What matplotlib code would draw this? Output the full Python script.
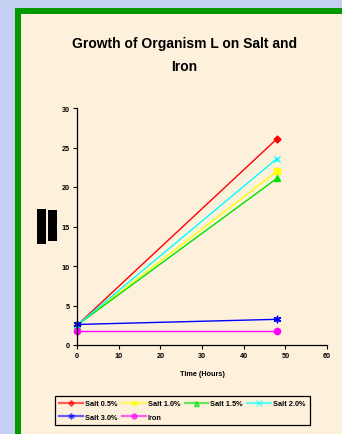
import numpy as np
import matplotlib.pyplot as plt
from matplotlib.patches import Rectangle
from matplotlib.lines import Line2D

# growth readings at the start and after 48 hours
hours = [0, 48]
series_names = ['Salt 0.5%', 'Salt 1.0%', 'Salt 1.5%', 'Salt 2.0%', 'Salt 3.0%', 'Iron']
salt_05 = [2.5, 26.1]
salt_10 = [2.5, 22.0]
salt_15 = [2.5, 21.1]
salt_20 = [2.5, 23.6]
salt_30 = [2.6, 3.25]
iron = [1.8, 1.8]

x_ticks = [0, 10, 20, 30, 40, 50, 60]
y_ticks = [0, 5, 10, 15, 20, 25, 30]

W, H = 342, 435
fig = plt.figure(figsize=(W / 100, H / 100), dpi=100)
fig.patch.set_facecolor('#c4cff2')

def px(x, y, w, h, z, **kw):
    # rectangle in pixel units, measured from the top-left corner
    fig.patches.append(Rectangle((x / W, 1 - (y + h) / H), w / W, h / H,
                                 transform=fig.transFigure, figure=fig,
                                 zorder=z, **kw))

px(15, 9, W, H, -3, facecolor='#009900', edgecolor='none')
px(21, 15, W, H, -2, facecolor='#fdf1dc', edgecolor='none')
px(37, 210, 9, 35, -1, facecolor='black', edgecolor='none')
px(48, 211, 9, 31, -1, facecolor='black', edgecolor='none')

ax = fig.add_axes([77 / W, 1 - 346 / H, 250 / W, 237 / H])
ax.set_facecolor('none')

styles = [
    ('#ff0000', 'D', 3.5),
    ('#ffff00', 's', 4),
    ('#00e000', '^', 4.5),
    ('#00ffff', 'x', 5),
    ('#0000ff', '$\u2736$', 5),
    ('#ff00ff', 'o', 4.5),
]
data = [salt_05, salt_10, salt_15, salt_20, salt_30, iron]
handles = []
for vals, name, (c, m, ms) in zip(data, series_names, styles):
    ax.plot(hours, vals, color=c, lw=1, marker=m, ms=ms, mec=c, mfc=c,
            clip_on=False)
    handles.append(Line2D([], [], color=c, lw=1.6, alpha=0.6, marker=m,
                          ms=ms * 0.8, mec=c, mfc=c, label=name))

ax.set_xlim(0, 60)
ax.set_ylim(0, 30)
ax.set_xticks(x_ticks)
ax.set_yticks(y_ticks)
for s in ['top', 'right']:
    ax.spines[s].set_visible(False)
for s in ['left', 'bottom']:
    ax.spines[s].set_linewidth(0.9)
ax.tick_params(length=3, width=0.8, labelsize=5.2, pad=2)
for lab in ax.get_xticklabels() + ax.get_yticklabels():
    lab.set_fontweight('bold')
    lab.set_fontfamily('Liberation Sans')

fig.text(202 / W, 1 - 375 / H, 'Time (Hours)', ha='center', va='center',
         fontsize=5.2, fontweight='bold', family='Liberation Sans')

fig.text(184.5 / W, 1 - 55.5 / H, 'Growth of Organism L on Salt and\nIron',
         ha='center', va='center', fontsize=10, fontweight='bold',
         family='Liberation Sans', linespacing=1.75)

# reorder so the legend fills row by row
order = [0, 4, 1, 5, 2, 3]
leg = fig.legend([handles[i] for i in order], [series_names[i] for i in order],
                 ncol=4, loc='center', bbox_to_anchor=(182.5 / W, 1 - 411.5 / H),
                 prop={'family': 'Liberation Sans', 'weight': 'bold', 'size': 5.3},
                 handlelength=3.2, handletextpad=0.3, columnspacing=0.6,
                 labelspacing=0.9, borderpad=0.6, fancybox=False,
                 facecolor='#fdf1dc', edgecolor='black', framealpha=1)
leg.get_frame().set_linewidth(0.9)

fig.savefig('out.png', dpi=100, facecolor=fig.get_facecolor())
